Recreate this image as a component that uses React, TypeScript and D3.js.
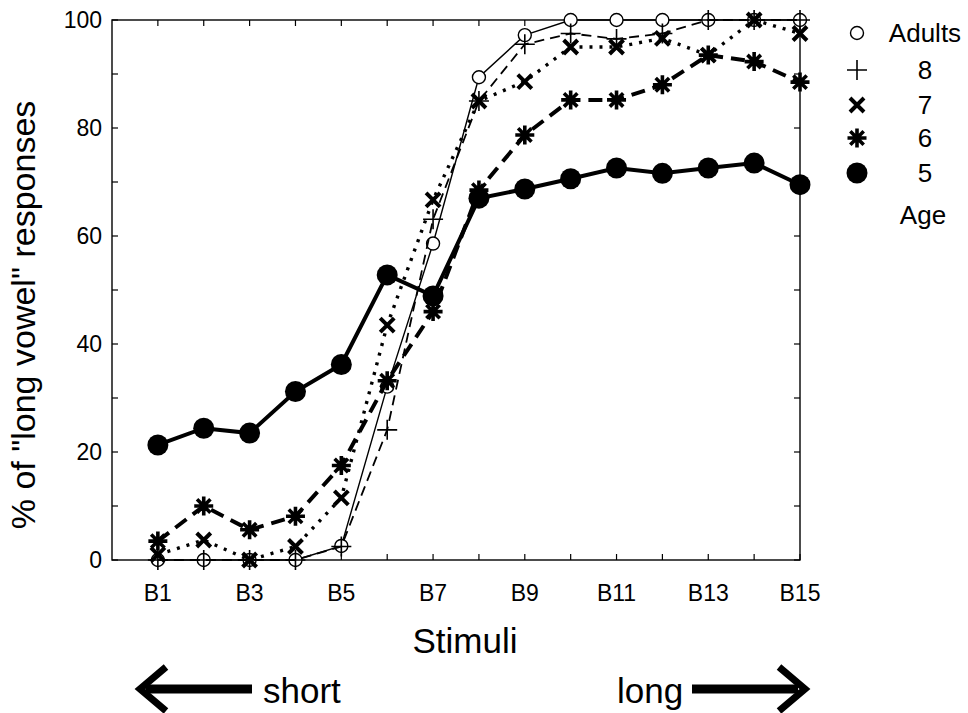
import React from 'react';
import * as d3 from 'd3';

// stimulus index 1..15 (B1..B15)
const stimuli = [1, 2, 3, 4, 5, 6, 7, 8, 9, 10, 11, 12, 13, 14, 15];
const xLabels = ['B1', 'B3', 'B5', 'B7', 'B9', 'B11', 'B13', 'B15'];
const yLabels = [0, 20, 40, 60, 80, 100];

// % of "long vowel" responses per age group
const adults = [0, 0, 0, 0, 2.6, 32.1, 58.6, 89.4, 97.2, 100, 100, 100, 100, 100, 100];
const age8 = [0, 0, 0, 0, 2.5, 24.1, 63.1, 85, 95.5, 97.5, 96.5, 97.5, 100, 100, 100];
const age7 = [1, 3.7, 0, 2.5, 11.5, 43.5, 66.7, 85, 88.6, 95, 95, 96.6, 93.5, 100, 97.5];
const age6 = [3.5, 10, 5.6, 8.1, 17.5, 33.2, 46, 68.5, 78.7, 85.2, 85.2, 88, 93.5, 92.3, 88.5];
const age5 = [21.3, 24.4, 23.5, 31.2, 36.2, 52.8, 48.9, 67, 68.7, 70.6, 72.6, 71.6, 72.6, 73.5, 69.5];

const legendLabels = ['Adults', '8', '7', '6', '5'];

const FONT = '"Liberation Sans", Arial, Helvetica, sans-serif';

type Series = { name: string; values: number[]; marker: string; width: number; dash: string };

const series: Series[] = [
    { name: 'Adults', values: adults, marker: 'circle', width: 1.4, dash: '' },
    { name: '8', values: age8, marker: 'plus', width: 1.8, dash: '10,6' },
    { name: '7', values: age7, marker: 'x', width: 3.4, dash: '3,7' },
    { name: '6', values: age6, marker: 'star', width: 4, dash: '14,8' },
    { name: '5', values: age5, marker: 'dot', width: 4, dash: '' },
];

function Marker({ type, cx, cy }: { type: string; cx: number; cy: number }) {
    if (type === 'circle') {
        return <circle cx={cx} cy={cy} r={6.5} fill="white" stroke="black" strokeWidth={1.4} />;
    }
    if (type === 'plus') {
        const s = 10;
        return (
            <path d={`M${cx - s},${cy}H${cx + s}M${cx},${cy - s}V${cy + s}`} stroke="black" strokeWidth={1.6} fill="none" />
        );
    }
    if (type === 'x') {
        const s = 7;
        return (
            <path d={`M${cx - s},${cy - s}L${cx + s},${cy + s}M${cx - s},${cy + s}L${cx + s},${cy - s}`}
                  stroke="black" strokeWidth={4} fill="none" />
        );
    }
    if (type === 'star') {
        const s = 9.5, d = 6.7;
        return (
            <path d={`M${cx - s},${cy}H${cx + s}M${cx},${cy - s}V${cy + s}M${cx - d},${cy - d}L${cx + d},${cy + d}M${cx - d},${cy + d}L${cx + d},${cy - d}`}
                  stroke="black" strokeWidth={3.6} fill="none" />
        );
    }
    return <circle cx={cx} cy={cy} r={10.5} fill="black" />;
}

export default function App() {
    const width = 968;
    const height = 713;
    const margin = { t: 20, b: 153, r: 168, l: 112 };

    const x = d3.scaleLinear().domain([0, 15]).range([margin.l, width - margin.r]);
    const y = d3.scaleLinear().domain([0, 100]).range([height - margin.b, margin.t]);

    const line = d3.line<number>()
        .x((d, i) => x(stimuli[i]))
        .y(d => y(d));

    const x0 = x(0), x1 = x(15), y0 = y(0), y1 = y(100);

    //y ticks every 10, both sides
    const yTicks = d3.range(0, 101, 10).map(v => (
        <g key={'y' + v}>
            <line x1={x0} x2={x0 + 6} y1={y(v)} y2={y(v)} stroke="black" strokeWidth={1.2} />
            <line x1={x1} x2={x1 - 6} y1={y(v)} y2={y(v)} stroke="black" strokeWidth={1.2} />
        </g>
    ));

    //x ticks at every stimulus, top and bottom
    const xTicks = stimuli.map(s => (
        <g key={'x' + s}>
            <line x1={x(s)} x2={x(s)} y1={y0} y2={y0 - 6} stroke="black" strokeWidth={1.2} />
            <line x1={x(s)} x2={x(s)} y1={y1} y2={y1 + 6} stroke="black" strokeWidth={1.2} />
        </g>
    ));

    const legendY = [33, 70, 105, 138, 173];

    return (
        <svg width={width} height={height} style={{ position: 'absolute', left: 0, top: 0, background: 'white' }}
             fontFamily={FONT}>
            <rect x={0} y={0} width={width} height={height} fill="white" />
            {yTicks}
            {xTicks}
            <rect x={x0} y={y1} width={x1 - x0} height={y0 - y1} fill="none" stroke="black" strokeWidth={1.4} />

            {yLabels.map(v => (
                <text key={'yl' + v} x={102} y={y(v) + 8} fontSize={23} textAnchor="end">{v}</text>
            ))}
            {xLabels.map((l, i) => (
                <text key={l} x={x(i * 2 + 1)} y={601} fontSize={23} textAnchor="middle">{l}</text>
            ))}

            {series.map(s => (
                <g key={s.name}>
                    <path d={line(s.values) || ''} fill="none" stroke="black" strokeWidth={s.width}
                          strokeDasharray={s.dash || undefined} />
                    {s.values.map((v, i) => (
                        <Marker key={i} type={s.marker} cx={x(stimuli[i])} cy={y(v)} />
                    ))}
                </g>
            ))}

            <text transform="translate(35,315) rotate(-90)" fontSize={34} textAnchor="middle">% of "long vowel" responses</text>
            <text x={465} y={653} fontSize={35} textAnchor="middle">Stimuli</text>

            {/* legend */}
            {series.map((s, i) => (
                <g key={'lg' + s.name}>
                    <Marker type={s.marker} cx={857} cy={legendY[i]} />
                    <text x={925} y={legendY[i] + 9} fontSize={26} textAnchor="middle">{legendLabels[i]}</text>
                </g>
            ))}
            <text x={923} y={224} fontSize={26} textAnchor="middle">Age</text>

            {/* direction arrows */}
            <line x1={146} x2={252} y1={689} y2={689} stroke="black" strokeWidth={9} />
            <path d="M166,667L140,689L166,711" fill="none" stroke="black" strokeWidth={7} />
            <text x={263} y={703} fontSize={35}>short</text>
            <text x={617} y={703} fontSize={35}>long</text>
            <line x1={692} x2={798} y1={689} y2={689} stroke="black" strokeWidth={9} />
            <path d="M779,667L805,689L779,711" fill="none" stroke="black" strokeWidth={7} />
        </svg>
    );
}
